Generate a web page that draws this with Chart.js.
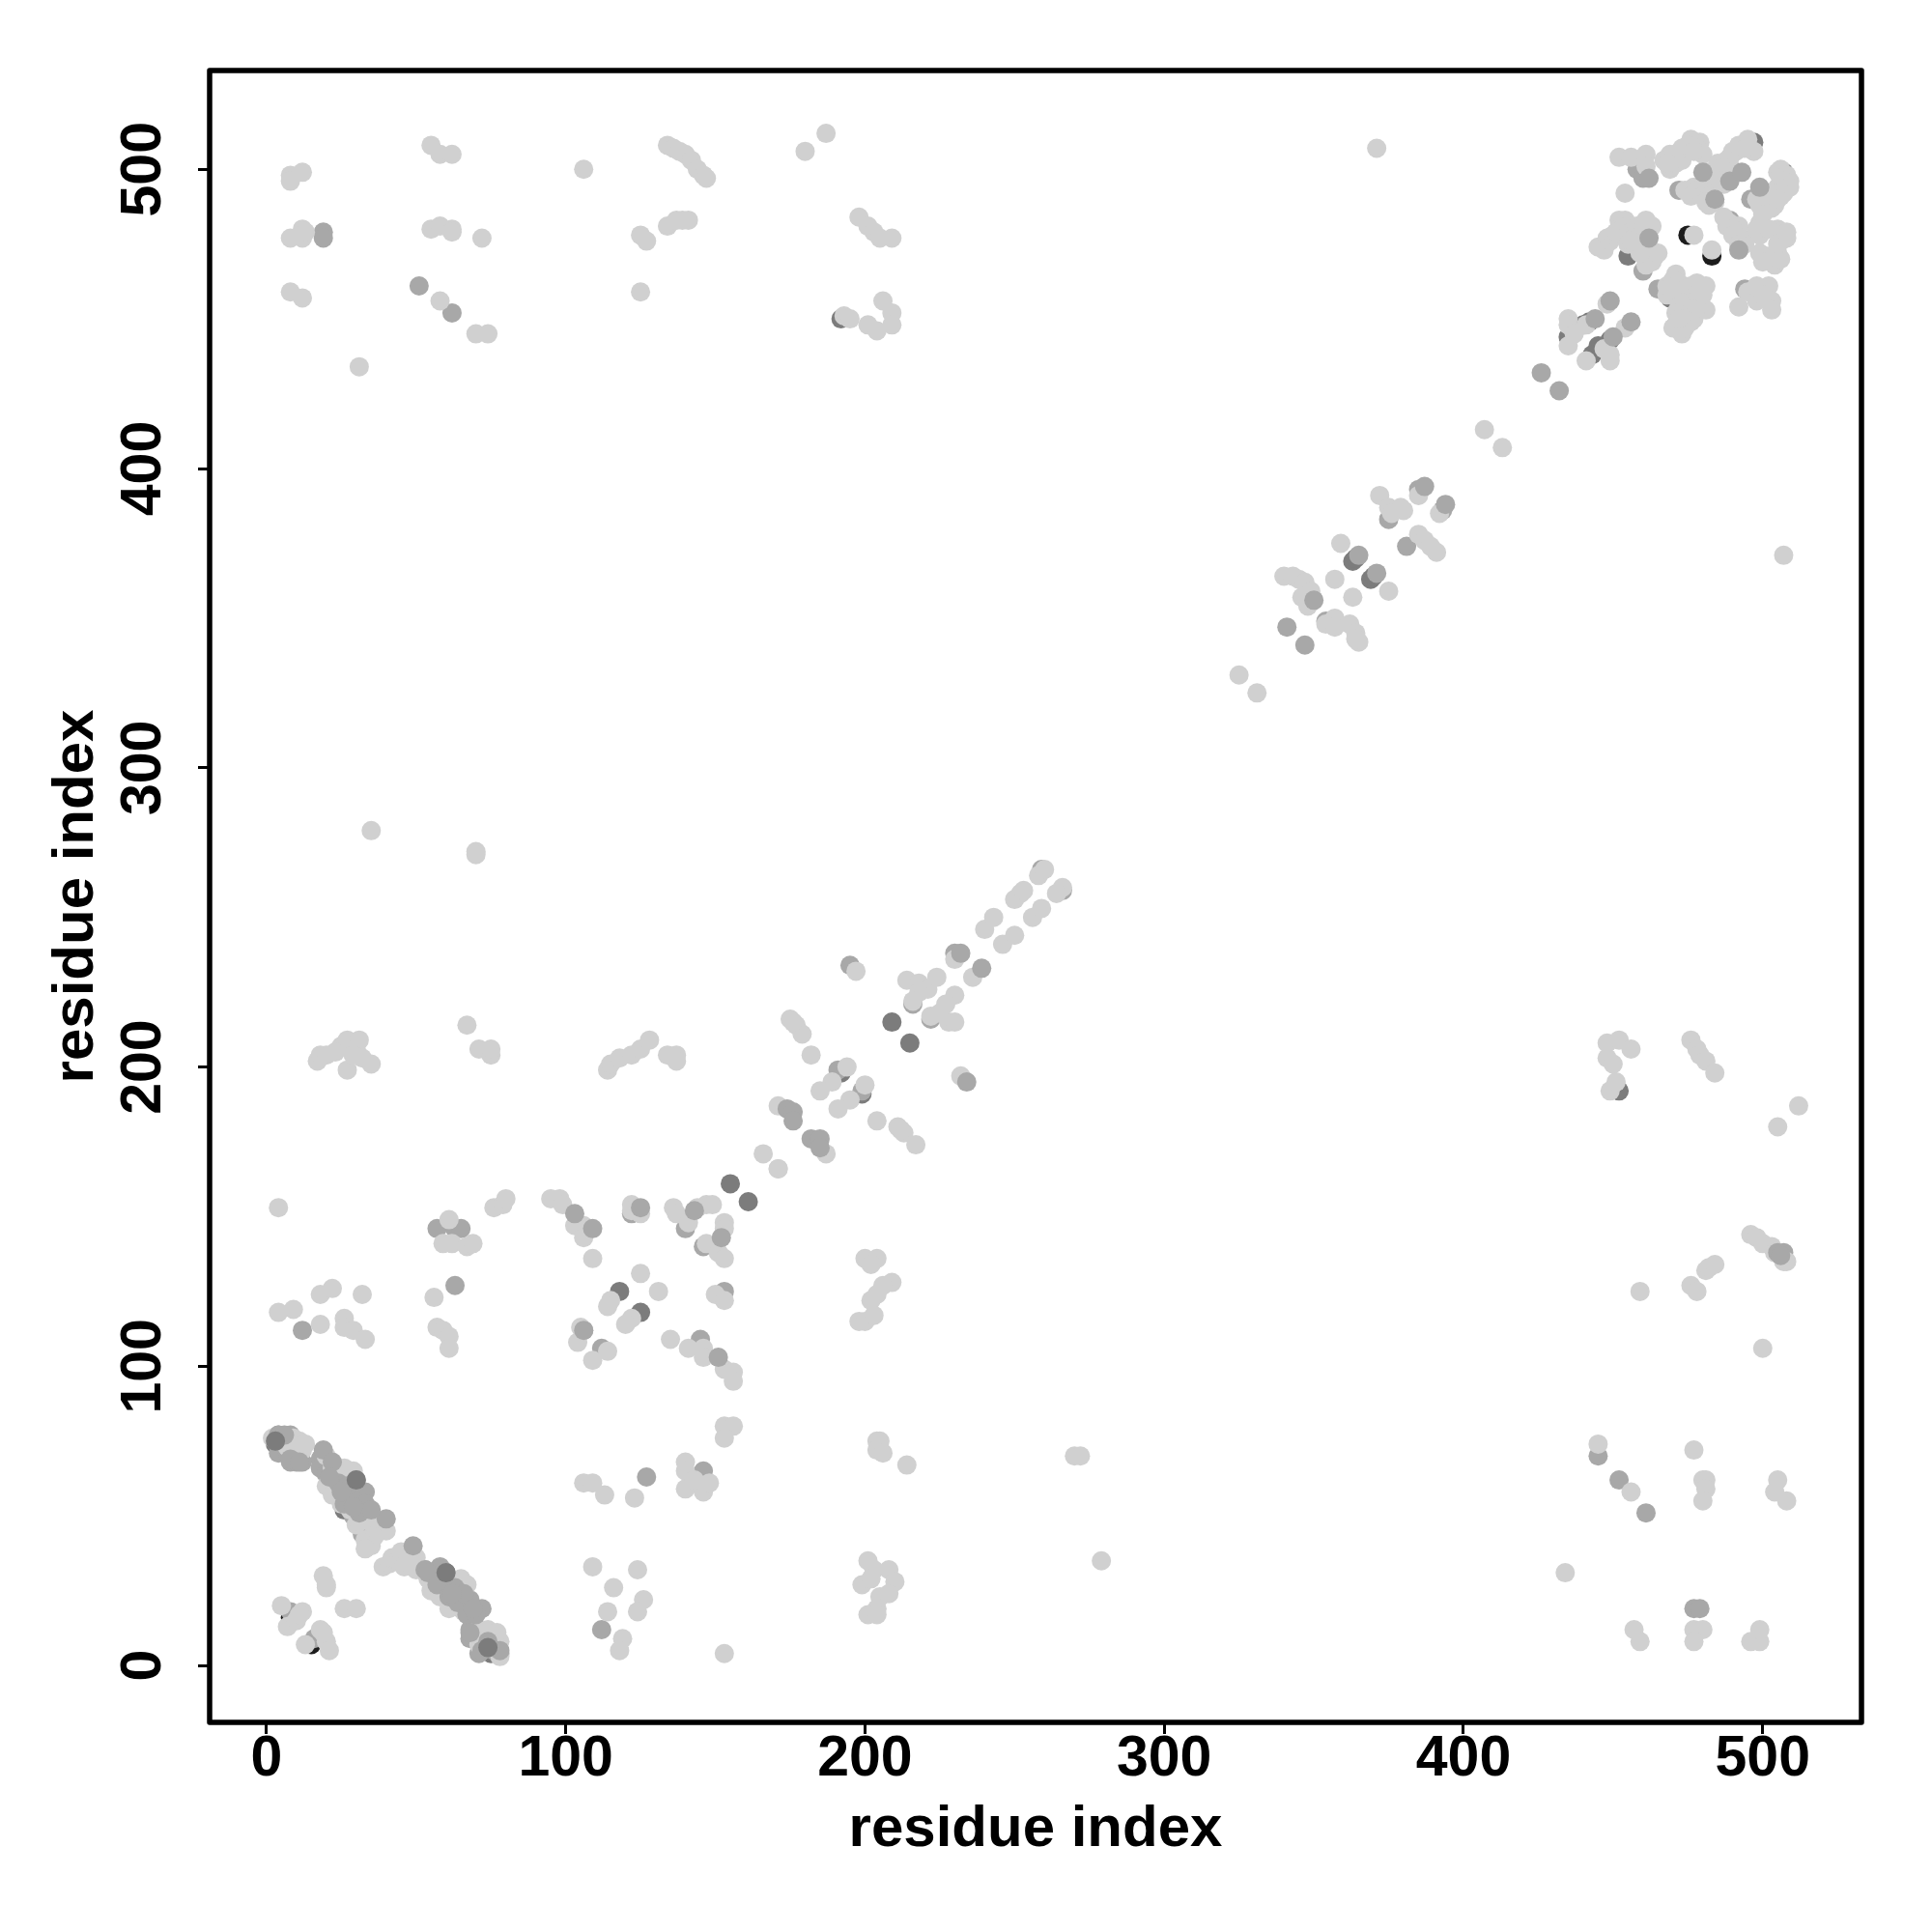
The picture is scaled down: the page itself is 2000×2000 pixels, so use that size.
<!DOCTYPE html>
<html>
<head>
<meta charset="utf-8">
<title>residue contacts</title>
<script src="https://cdn.jsdelivr.net/npm/chart.js@4/dist/chart.umd.min.js"></script>
<style>
html, body { margin: 0; padding: 0; background: #fff; }
canvas { display: block; }
</style>
</head>
<body>
<canvas id="contactChart" width="2000" height="2000"></canvas>
<script>
// tick labels
const tickValues = [0, 100, 200, 300, 400, 500];

// contacts, [residue, residue], drawn bottom layer first
const blackContacts = [
    [8,16],[15,7],[7,72],[475,478],[483,471],[69,9]
];

const darkContacts = [
    [3,74],[7,75],[19,67],[22,63],[25,60],[28,64],[27,57],[30,55],[26,52],[34,50],[33,46],
    [55,29],[58,26],[60,31],[62,28],[64,24],[66,20],[69,17],[74,7],[75,4],
    [192,198],[199,191],[209,215],[215,208],[155,161],[161,155],[118,125],[125,118],
    [363,369],[364,370],[369,363],[370,364],[442,449],[440,448],[435,444],[449,443],[445,441],[443,438],
    [497,509],[507,499],[469,457],[455,471],[471,448],[192,450],[452,192]
];

const midUnderContacts = [
    [4,77],[3,75],[4,71],[8,77],[8,68],[10,68],[12,68],[7,71],
    [18,69],[18,66],[20,64],[21,60],[24,62],[24,58],[26,56],[29,58],[31,52],[29,50],[32,44],[34,46],
    [53,32],[56,30],[57,28],[59,30],[61,26],[63,22],[65,19],[68,22],[68,18],[68,12],[68,9],[71,4],[72,7],[78,4],[76,5],
    [8,18],[16,9],
    [140,146],[146,140],[106,112],[112,106],[153,125],[145,109],[122,151],
    [191,199],[199,192],[195,234],[216,221],[222,216],[259,266],[266,259],[230,238],
    [354,349],[375,383],[381,374],[385,393],[393,386],[341,347],[347,341],
    [472,493],[458,500],[460,497],[489,483],[465,460],[460,466],[498,459],[494,460],[496,490],
    [445,70],[452,62],[461,51],[477,19],[479,19],[507,138],[62,452],[51,461],[19,479],[19,477],
    [57,146],[63,146],[65,146],[12,112],[63,127],[112,12],[127,63],[146,65]
];

const lightContacts = [
    // bottom left band
    [2,76],[9,76],[7,73],[11,75],[12,72],[13,74],[10,72],
    [20,70],[22,66],[26,66],[29,65],[24,64],[27,62],[20,60],[22,57],[25,54],[28,52],[30,47],[36,49],[36,46],[38,47],[40,45],[33,42],[36,43],[35,40],[33,39],[31,48],
    [39,33],[41,34],[42,36],[44,35],[45,38],[47,37],[46,33],[50,36],[50,32],[48,34],
    [54,29],[55,25],[58,23],[61,19],[63,24],[65,29],[66,26],[67,27],[66,18],[62,22],
    [71,12],[74,12],[72,9],[78,8],[77,11],[71,7],[78,3],
    // bottom left corner
    [5,20],[7,13],[10,15],[12,18],[11,17],[13,7],[18,12],[19,11],[20,8],[21,5],[19,30],[20,27],[20,26],[26,19],[30,19],
    // left column, y 100 to 210
    [4,153],[4,118],[9,119],[18,124],[22,126],[18,114],[26,116],[26,113],[29,112],[32,124],[33,109],
    [56,123],[57,113],[59,112],[61,110],[61,106],[61,149],[59,141],[62,141],[67,140],[69,141],[76,153],[79,154],[80,156],
    [70,272],[70,271],[35,279],[17,202],[18,204],[20,204],[25,207],[27,209],[27,199],[30,206],[31,209],[32,203],[35,201],[23,205],[29,204],
    [67,214],[71,206],[75,204],[75,206],
    // upper left
    [8,498],[8,496],[12,499],[8,477],[12,480],[12,477],[13,479],[8,459],[12,457],[31,434],
    [55,508],[58,505],[62,505],[55,480],[58,481],[62,480],[62,479],[72,477],[58,456],[70,445],[74,445],
    [106,500],[125,478],[127,476],[125,459],[134,508],[136,507],[138,506],[140,505],[142,503],[144,500],[146,498],[147,497],
    [134,481],[137,483],[139,483],[141,483],[180,506],[187,512],
    [198,484],[201,481],[203,479],[205,477],[209,477],[193,451],[195,450],[201,448],[204,446],[206,456],[209,452],[209,448],[371,507],
    // lower right
    [445,74],[456,58],[477,72],[480,62],[481,62],[481,59],[480,55],[505,62],[504,58],[508,55],[434,31],[457,12],[459,8],
    [477,12],[480,12],[477,8],[496,8],[499,8],[499,12],[279,35],[270,70],[272,70],
    [448,208],[452,209],[456,206],[448,203],[450,201],[449,192],[451,195],[476,209],[478,206],[479,204],[481,202],[484,198],
    [505,180],[512,187],[496,144],[498,143],[500,141],[503,140],[504,138],[508,135],[507,135],
    [476,127],[478,125],[481,132],[482,133],[484,134],[459,125],[500,106],[507,371],
    // middle block
    [95,156],[98,156],[99,154],[103,147],[106,147],[106,143],[109,136],[122,154],[122,152],[125,151],[136,153],[137,151],[141,148],[147,154],[144,153],[149,154],
    [153,148],[153,146],[147,141],[151,138],[153,136],[171,166],[125,131],[115,122],[114,120],[131,125],[122,116],[120,114],
    [105,113],[104,108],[114,105],[109,102],[150,124],[153,122],[135,109],[141,106],[146,106],[146,103],[153,99],[156,98],[156,95],[153,80],[156,80],[153,76],
    [106,61],[109,61],[113,57],[109,33],[116,26],[114,18],[119,9],[118,5],[123,56],[124,32],[126,22],[124,18],
    [140,68],[140,65],[140,59],[146,58],[148,61],[143,62],[153,4],
    [204,75],[205,75],[204,72],[206,71],[214,67],[201,35],[199,27],[203,32],[208,32],[210,28],[205,23],[208,24],[204,19],[201,17],[204,17],[202,29],
    [200,136],[204,136],[202,134],[209,128],[206,127],[204,124],[202,122],[198,115],[200,115],[203,117],
    [114,199],[115,201],[118,203],[122,204],[125,206],[128,209],[134,204],[137,204],[137,202],
    // diagonal 165 to 266
    [166,171],[171,166],[171,187],[182,204],[175,216],[177,214],[179,211],[176,215],[194,200],[189,195],[185,192],[200,194],[195,189],[191,186],
    [204,182],[211,180],[213,178],[217,174],[212,179],[197,232],[232,197],[214,229],[218,228],[221,226],[224,230],[218,225],[216,222],
    [230,224],[227,221],[225,218],[228,215],[230,215],[222,217],[230,236],[236,230],[240,246],[243,250],[246,241],[250,244],[252,258],[250,256],[253,259],[256,250],[259,253],
    [258,264],[260,266],[266,260],[264,258],[187,171],
    // diagonal 325 to 395
    [325,331],[331,325],[340,364],[343,364],[345,363],[347,362],[349,359],[346,357],[348,354],[350,356],[357,363],[359,375],[363,357],[375,359],
    [354,348],[357,350],[357,347],[362,348],[364,345],[365,342],[364,343],
    [372,391],[375,387],[379,387],[376,385],[380,386],[385,391],[392,385],[385,378],[387,376],[389,374],[391,372],[407,413],[413,407],
    // diagonal 435 to 456, then the upper right block
    [448,455],[435,450],[435,448],[437,445],[441,448],[435,441],[454,447],[447,440],[441,436],[449,436],[449,438],
    [452,504],[456,504],[461,505],[461,501],[454,492],[469,505],[471,505],[469,500],[467,503],[476,510],[479,509],[480,505],[478,507],[473,503],
    [473,507],[475,508],[471,502],[477,506],[470,503],[468,502],
    [477,494],[481,493],[482,488],[479,492],[482,499],[488,503],[493,508],[495,510],[497,506],[489,501],[491,506],
    [474,493],[476,491],[478,493],[480,491],[482,491],[481,489],[484,489],
    [483,498],[485,502],[486,498],[487,500],[488,497],[489,504],[490,506],[492,508],[494,507],[485,500],[487,495],[490,499],[486,496],
    [505,499],[509,496],[506,491],[507,492],[502,489],[504,488],
    [506,500],[508,498],[509,494],[507,496],[505,494],[503,492],[501,490],[499,488],[498,490],[503,487],[505,490],
    [492,481],[492,477],[494,475],[488,481],[499,482],[499,478],[507,478],[508,477],[505,480],[501,471],[505,472],[504,468],[501,470],
    [487,484],[489,482],[491,479],[490,480],[493,477],[490,478],[492,475],
    [500,485],[498,480],[502,480],[506,476],[499,472],[503,471],[506,470],[500,469],[505,475],[508,479],
    [498,461],[502,461],[503,456],[503,453],[492,454],[495,459],[498,456],[500,458],
    [477,478],[483,473],[445,474],[447,473],[448,477],[452,483],[454,483],[461,483],[458,478],[454,478],[452,480],[464,471],[463,469],[461,470],[459,474],
    [449,476],[450,478],[451,479],[453,480],[455,481],[456,479],[458,481],[460,480],[457,477],[455,475],[460,476],[462,474],[463,472],[461,468],[459,472],[456,476],[463,481],[465,472],
    [471,465],[468,458],[481,461],[478,462],[481,453],[477,456],[473,456],[471,448],[474,449],[473,445],[477,450],
    [468,461],[470,463],[472,462],[473,460],[475,459],[476,461],[474,457],[478,458],[480,458],[472,454],[474,453],[476,452],[472,456],[478,454],[470,460],[471,452],[476,449],[474,447],[470,447],[472,450],[479,459]
];

const midTopContacts = [
    [19,72],[22,68],[30,62],[33,58],[33,54],[40,49],[49,40],[53,32],[58,33],[72,19],
    [4,77],[6,77],[8,69],[11,68],[24,61],[26,54],[28,57],[31,51],[35,52],[54,31],[57,27],[61,23],[64,21],[67,17],[70,17],[72,5],[78,5],[68,11],
    [21,63],[27,60],[25,58],[29,53],[63,26],[66,24],[62,24],[69,19],[74,8],
    [103,151],[109,146],[125,153],[143,152],[152,143],[106,112],[151,103],
    [174,186],[176,185],[176,182],[182,176],[185,176],[185,173],[234,195],[232,238],[239,233],[350,356],
    [365,371],[371,365],[387,394],[394,388],[426,432],[432,426],[449,456],[444,450],[456,449],[450,444],
    [462,497],[484,490],[480,499],[489,496],[493,499],[499,494],[492,473],[462,477],[505,138],[506,137]
];

const darkTopContacts = [
    [3,75],[30,62],[60,31],[74,6]
];

const shades = {
    black: '#1c1c1c',
    dark: '#7c7c7c',
    mid: '#a8a8a8',
    light: '#d0d0d0'
};

function toPoints(pairs) {
    return pairs.map(p => ({ x: p[0], y: p[1] }));
}

function contactLayer(pairs, color, order) {
    return {
        data: toPoints(pairs),
        backgroundColor: color,
        borderWidth: 0,
        pointRadius: 10,
        pointHoverRadius: 10,
        order: order
    };
}

const frameBox = {
    id: 'frameBox',
    afterDraw(chart) {
        const a = chart.chartArea;
        const ctx = chart.ctx;
        ctx.save();
        ctx.strokeStyle = '#000';
        ctx.lineWidth = 5.5;
        ctx.lineJoin = 'round';
        ctx.strokeRect(a.left, a.top, a.right - a.left, a.bottom - a.top);
        ctx.restore();
    }
};

const tickFont = { family: 'Liberation Sans', weight: 'bold', size: 59 };
const titleFont = { family: 'Liberation Sans', weight: 'bold', size: 60 };

function axisOptions(rotation, tickPadding, crossAlign, titlePadding, fit) {
    return {
        type: 'linear',
        min: -19,
        max: 533,
        afterBuildTicks: s => { s.ticks = tickValues.map(v => ({ value: v })); },
        afterFit: fit,
        border: { display: false },
        grid: {
            drawOnChartArea: false,
            drawTicks: true,
            tickLength: 12,
            tickWidth: 3,
            tickColor: '#000'
        },
        ticks: {
            color: '#000',
            font: tickFont,
            padding: tickPadding,
            crossAlign: crossAlign,
            minRotation: rotation,
            maxRotation: rotation,
            autoSkip: false
        },
        title: {
            display: true,
            text: 'residue index',
            color: '#000',
            font: titleFont,
            padding: titlePadding
        }
    };
}

new Chart(document.getElementById('contactChart'), {
    type: 'scatter',
    data: {
        datasets: [
            contactLayer(blackContacts, shades.black, 6),
            contactLayer(darkContacts, shades.dark, 5),
            contactLayer(midUnderContacts, shades.mid, 4),
            contactLayer(lightContacts, shades.light, 3),
            contactLayer(midTopContacts, shades.mid, 2),
            contactLayer(darkTopContacts, shades.dark, 1)
        ]
    },
    options: {
        responsive: false,
        devicePixelRatio: 1,
        animation: false,
        layout: { padding: { top: 73, right: 73, left: 0, bottom: 0 } },
        plugins: {
            legend: { display: false },
            tooltip: { enabled: false }
        },
        scales: {
            x: axisOptions(0, -9, 'near', { top: 0, bottom: 70 }, s => { s.height = 217; }),
            y: axisOptions(90, 6, 'center', { top: 43, bottom: 0 }, s => { s.width = 217; })
        }
    },
    plugins: [frameBox]
});
</script>
</body>
</html>
